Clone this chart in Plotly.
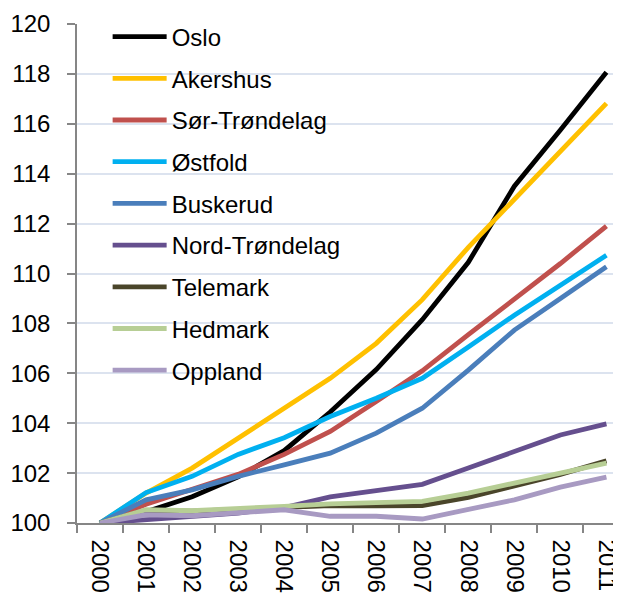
import plotly.graph_objects as go

years = ["2000", "2001", "2002", "2003", "2004", "2005", "2006", "2007", "2008", "2009", "2010", "2011"]

oslo = [100, 100.45, 101.05, 101.85, 102.9, 104.45, 106.15, 108.15, 110.45, 113.5, 115.75, 118.07]
akershus = [100, 101.2, 102.2, 103.4, 104.55, 105.8, 107.2, 108.95, 111.05, 112.97, 114.9, 116.82]
sor_trondelag = [100, 100.75, 101.35, 101.95, 102.75, 103.67, 104.87, 106.1, 107.55, 108.95, 110.4, 111.9]
ostfold = [100, 101.22, 101.87, 102.75, 103.42, 104.27, 105.0, 105.8, 107.05, 108.33, 109.53, 110.73]
buskerud = [100, 100.93, 101.33, 101.87, 102.33, 102.8, 103.6, 104.6, 106.13, 107.73, 109.0, 110.27]
nord_trondelag = [100, 100.13, 100.24, 100.4, 100.62, 101.05, 101.3, 101.55, 102.2, 102.87, 103.53, 103.97]
telemark = [100, 100.5, 100.47, 100.55, 100.65, 100.7, 100.69, 100.7, 101.03, 101.5, 101.95, 102.49]
hedmark = [100, 100.53, 100.49, 100.6, 100.67, 100.77, 100.8, 100.87, 101.2, 101.6, 101.97, 102.4]
oppland = [100, 100.33, 100.29, 100.4, 100.53, 100.27, 100.27, 100.16, 100.55, 100.93, 101.44, 101.84]

series_names = ["Oslo", "Akershus", "Sør-Trøndelag", "Østfold", "Buskerud",
                "Nord-Trøndelag", "Telemark", "Hedmark", "Oppland"]
series_values = [oslo, akershus, sor_trondelag, ostfold, buskerud,
                 nord_trondelag, telemark, hedmark, oppland]
series_colors = ["#000000", "#FFC000", "#C0504D", "#00B0F0", "#4A7EBB",
                 "#654F8E", "#4A452A", "#B7CE95", "#A89AC2"]

y_ticks = [100, 102, 104, 106, 108, 110, 112, 114, 116, 118, 120]

FONT = "Liberation Sans, Arial, sans-serif"

fig = go.Figure()
for i, (name, vals, col) in enumerate(zip(series_names, series_values, series_colors)):
    fig.add_trace(go.Scatter(
        x=years, y=vals, name=name, mode="lines",
        line=dict(color=col, width=4.8),
        legendgroup=f"g{i}",
    ))

fig.update_layout(
    width=621, height=596, autosize=False,
    margin=dict(l=69, r=0, t=16, b=81),
    paper_bgcolor="white", plot_bgcolor="white",
    font=dict(family=FONT, size=24, color="black"),
    showlegend=True,
    legend=dict(
        x=0.0555, y=1.019, xanchor="left", yanchor="top",
        bgcolor="rgba(0,0,0,0)", font=dict(size=24, family=FONT, color="black"),
        traceorder="grouped", tracegroupgap=7.5, itemwidth=54,
        maxheight=480,
    ),
    xaxis=dict(
        type="category", range=[-0.5, 11.49],
        tickson="boundaries", ticks="outside", ticklen=8, tickcolor="#868686", tickwidth=1.5,
        showline=True, linecolor="#868686", linewidth=1.5,
        showgrid=False, tickangle=90, tickfont=dict(size=24, family=FONT),
        zeroline=False, ticklabelstandoff=10,
    ),
    yaxis=dict(
        range=[100, 120], tickvals=y_ticks, ticktext=[str(v) for v in y_ticks],
        ticks="outside", ticklen=8, tickcolor="#868686", tickwidth=1.5,
        showline=True, linecolor="#868686", linewidth=1.5,
        showgrid=True, gridcolor="#DCE3EF", gridwidth=1.5,
        zeroline=False, tickfont=dict(size=24, family=FONT),
        ticklabelstandoff=12,
    ),
)

fig.write_html("out.html")
